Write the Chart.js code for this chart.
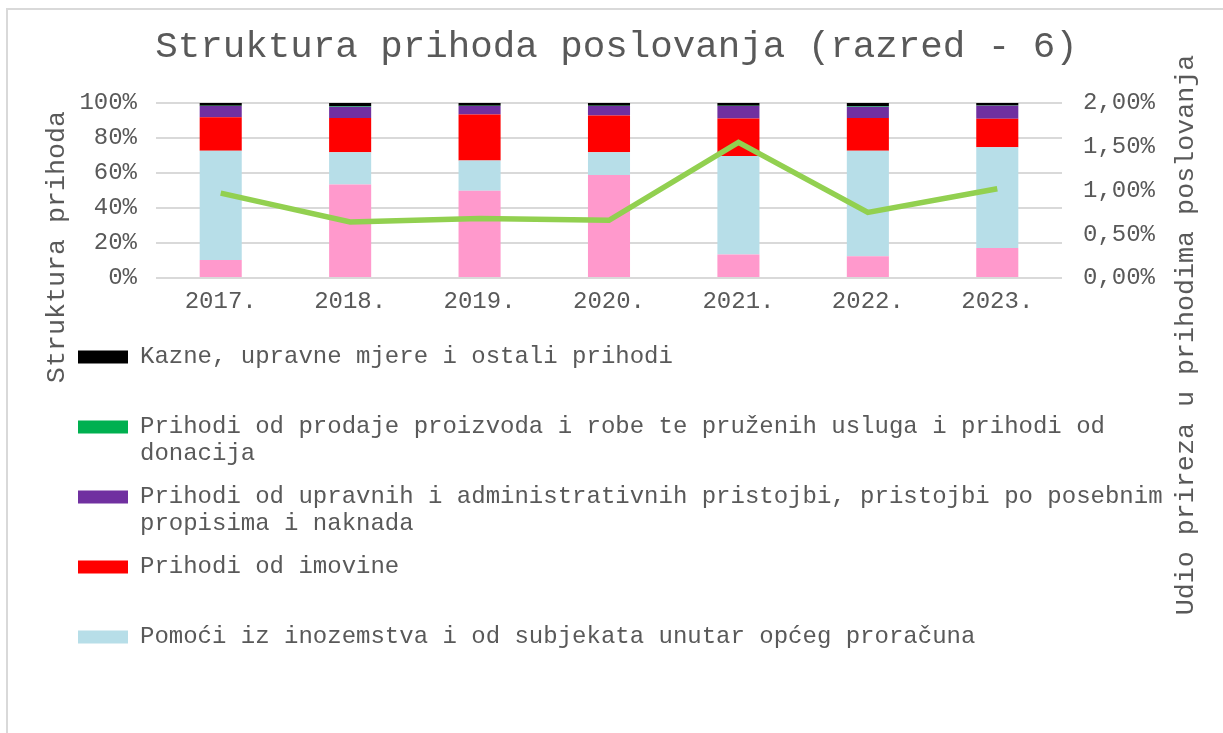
<!DOCTYPE html>
<html>
<head>
<meta charset="utf-8">
<script src="https://cdn.jsdelivr.net/npm/chart.js@4"></script>
<style>
    body { margin: 0; overflow: hidden; background: #fff; }
    #frame { position: absolute; left: 6px; top: 8px; width: 1400px; height: 900px; border: 2px solid #d9d9d9; }
    #myChart { position: absolute; left: 0; top: 0; }
</style>
</head>
<body>
<div id="frame"></div>
<canvas id="myChart" width="1223" height="733"></canvas>
<script>
const years = ["2017.", "2018.", "2019.", "2020.", "2021.", "2022.", "2023."];

// udjeli u %, odozdo prema gore
const porezi = [10.3, 53.5, 49.9, 58.9, 13.5, 12.4, 17.1];
const pomoci = [62.4, 18.3, 17.3, 12.9, 56.2, 60.3, 57.6];
const imovina = [19.1, 19.6, 26.3, 21.0, 21.5, 18.7, 16.3];
const pristojbe = [6.5, 6.5, 4.8, 5.5, 7.1, 6.5, 7.5];
const prodaja = [0.2, 0.4, 0.1, 0.1, 0.1, 0.4, 0.1];
const kazne = [1.5, 1.7, 1.6, 1.6, 1.6, 1.7, 1.4];

// udio prireza (desna os, %)
const prirez = [0.97, 0.64, 0.68, 0.66, 1.55, 0.75, 1.02];

const leftTicks = [0, 20, 40, 60, 80, 100];
const rightTicks = [0, 0.5, 1, 1.5, 2];

const title = "Struktura prihoda poslovanja (razred - 6)";
const leftTitle = "Struktura prihoda";
const rightTitle = "Udio prireza u prihodima poslovanja";

const nameKazne = "Kazne, upravne mjere i ostali prihodi";
const nameProdaja = ["Prihodi od prodaje proizvoda i robe te pruženih usluga i prihodi od", "donacija"];
const namePristojbe = ["Prihodi od upravnih i administrativnih pristojbi, pristojbi po posebnim", "propisima i naknada"];
const nameImovina = "Prihodi od imovine";
const namePomoci = "Pomoći iz inozemstva i od subjekata unutar općeg proračuna";
const namePorezi = "Prihodi od poreza";

const textColor = "#595959";
const fontFamily = '"Liberation Mono", monospace';
Chart.defaults.font.family = fontFamily;
Chart.defaults.color = textColor;

function bar(label, data, color) {
    return {
        type: "bar",
        label: label,
        data: data,
        backgroundColor: color,
        borderColor: color,
        borderWidth: 0,
        yAxisID: "y",
        order: 1,
        barPercentage: 0.325,
        categoryPercentage: 1
    };
}

// naslovi osi su pomaknuti kao u Excelu, ne centrirani na os
const axisTitles = {
    id: "axisTitles",
    afterLayout(chart) {
        // legenda malo više, preko donjeg ruba x osi
        chart.legend.top -= 17;
        chart.legend.bottom -= 17;
    },
    afterDraw(chart) {
        const ctx = chart.ctx;
        const put = (text, x, y) => {
            ctx.save();
            ctx.fillStyle = textColor;
            ctx.font = "26.7px " + fontFamily;
            ctx.textAlign = "center";
            ctx.textBaseline = "middle";
            ctx.translate(x, y);
            ctx.rotate(-Math.PI / 2);
            ctx.fillText(text, 0, 0);
            ctx.restore();
        };
        put(leftTitle, 57, 247);
        put(rightTitle, 1186, 335);
    }
};

new Chart("myChart", {
    data: {
        labels: years,
        datasets: [
            bar(namePorezi, porezi, "#ff99cc"),
            bar(namePomoci, pomoci, "#b7dee8"),
            bar(nameImovina, imovina, "#ff0000"),
            bar(namePristojbe, pristojbe, "#7030a0"),
            bar(nameProdaja, prodaja, "#00b050"),
            bar(nameKazne, kazne, "#000000"),
            {
                type: "line",
                label: rightTitle,
                data: prirez,
                borderColor: "#92d050",
                backgroundColor: "#92d050",
                borderWidth: 5.5,
                pointRadius: 0,
                tension: 0,
                fill: false,
                yAxisID: "y1",
                order: 0
            }
        ]
    },
    options: {
        responsive: false,
        animation: false,
        layout: {padding: {left: 32, right: 22, top: 8, bottom: 57}},
        plugins: {
            title: {
                display: true,
                text: title,
                color: textColor,
                font: {size: 37.5, weight: "normal"},
                padding: {top: 17, bottom: 33}
            },
            legend: {
                display: true,
                position: "bottom",
                align: "start",
                maxHeight: 420,
                labels: {
                    boxWidth: 50,
                    boxHeight: 13,
                    padding: 46,
                    color: textColor,
                    font: {size: 24, lineHeight: 1.1},
                    generateLabels(chart) {
                        const items = Chart.defaults.plugins.legend.labels.generateLabels(chart);
                        return items.filter(it => it.datasetIndex >= 1 && it.datasetIndex <= 5).reverse();
                    }
                }
            },
            tooltip: {enabled: false}
        },
        scales: {
            x: {
                stacked: true,
                grid: {display: false, drawTicks: false},
                border: {display: false},
                ticks: {font: {size: 24}, color: textColor, padding: 9},
                afterFit(scale) { scale.height = 38; }
            },
            y: {
                stacked: true,
                position: "left",
                min: 0,
                max: 100,
                afterBuildTicks(scale) { scale.ticks = leftTicks.map(v => ({value: v})); },
                grid: {color: "#d9d9d9", lineWidth: 2, drawTicks: false},
                border: {display: false},
                ticks: {
                    font: {size: 24},
                    color: textColor,
                    padding: 19,
                    autoSkip: false,
                    callback: v => v + "%"
                },
                afterFit(scale) { scale.width = 124; }
            },
            y1: {
                stacked: false,
                position: "right",
                min: 0,
                max: 2,
                afterBuildTicks(scale) { scale.ticks = rightTicks.map(v => ({value: v})); },
                grid: {drawOnChartArea: false, drawTicks: false},
                border: {display: false},
                ticks: {
                    font: {size: 24},
                    color: textColor,
                    padding: 21,
                    autoSkip: false,
                    callback: v => v.toFixed(2).replace(".", ",") + "%"
                },
                afterFit(scale) { scale.width = 139; }
            }
        }
    },
    plugins: [axisTitles]
});
</script>
</body>
</html>
